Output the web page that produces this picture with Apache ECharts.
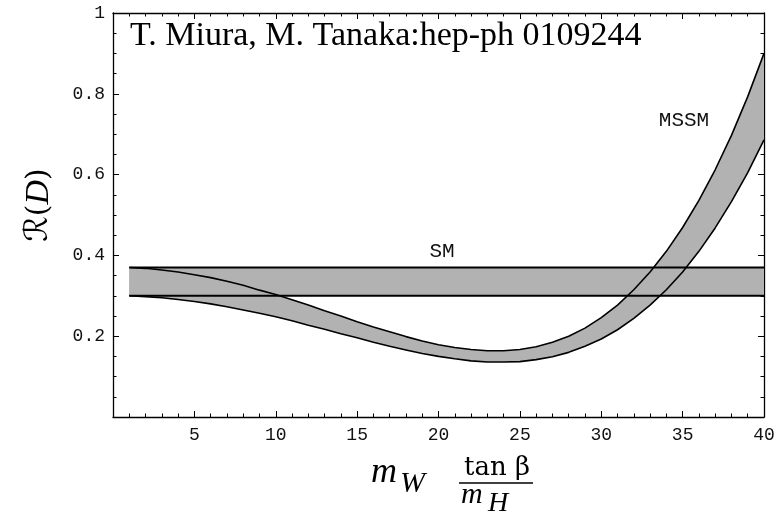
<!DOCTYPE html>
<html>
<head>
<meta charset="utf-8">
<script src="https://cdn.jsdelivr.net/npm/echarts@6/dist/echarts.min.js"></script>
<style>
  html, body { margin: 0; padding: 0; background: #fff; }
  #chart { width: 782px; height: 515px; }
</style>
</head>
<body>
<div id="chart"></div>
<script>
// x = m_W tan(beta) / m_H
const xs = [1, 2, 3, 4, 5, 6, 7, 8, 9, 10, 11, 12, 13, 14, 15, 16, 17, 18, 19, 20,
            21, 22, 23, 24, 25, 26, 27, 28, 29, 30, 31, 32, 33, 34, 35, 36, 37, 38, 39, 40];

// MSSM band: upper and lower edges of R(D)
const mssmUpper = [0.370, 0.368, 0.364, 0.359, 0.352, 0.345, 0.336, 0.326, 0.314, 0.303,
                   0.290, 0.277, 0.263, 0.250, 0.236, 0.223, 0.211, 0.199, 0.188, 0.179,
                   0.172, 0.167, 0.164, 0.164, 0.167, 0.174, 0.185, 0.200, 0.220, 0.246,
                   0.277, 0.315, 0.359, 0.410, 0.469, 0.536, 0.612, 0.697, 0.793, 0.900];
const mssmLower = [0.300, 0.298, 0.295, 0.291, 0.286, 0.280, 0.273, 0.265, 0.257, 0.248,
                   0.238, 0.227, 0.217, 0.206, 0.196, 0.185, 0.175, 0.166, 0.157, 0.150,
                   0.144, 0.139, 0.136, 0.136, 0.137, 0.142, 0.149, 0.160, 0.175, 0.193,
                   0.216, 0.244, 0.277, 0.315, 0.359, 0.410, 0.468, 0.533, 0.605, 0.686];

// SM band: constant range
const smX = [1, 40];
const smLower = [0.30, 0.30];
const smUpper = [0.37, 0.37];

// axis tick labels
const xTickLabels = ['', '5', '10', '15', '20', '25', '30', '35', '40'];
const yTickLabels = ['', '0.2', '0.4', '0.6', '0.8', '1'];

const BAND = '#b2b2b2';
const MONO = "'Courier New', 'Liberation Mono', monospace";

function pairs(x, y) { return x.map((v, i) => [v, y[i]]); }

// Filled region between two edges, drawn as one polygon
function bandSeries(x, lo, hi, z) {
  return {
    type: 'custom',
    z: z,
    silent: true,
    clip: true,
    data: [[x[0], lo[0]]],
    renderItem: function (params, api) {
      const pts = [];
      for (let i = 0; i < x.length; i++) pts.push(api.coord([x[i], hi[i]]));
      for (let i = x.length - 1; i >= 0; i--) pts.push(api.coord([x[i], lo[i]]));
      return { type: 'polygon', shape: { points: pts }, style: { fill: BAND, stroke: null } };
    }
  };
}

function edge(x, y, w) {
  return {
    type: 'line', z: 5, silent: true, symbol: 'none', clip: true,
    data: pairs(x, y),
    lineStyle: { color: '#000', width: w }
  };
}

const tickCommon = { show: true, inside: true, length: 6, lineStyle: { color: '#000', width: 1 } };
const minorCommon = { show: true, length: 3.5, lineStyle: { color: '#000', width: 1 } };

function xAxisDef(pos, labels) {
  return {
    type: 'value', position: pos, min: 0, max: 40, interval: 5,
    axisLine: { show: true, onZero: false, lineStyle: { color: '#000', width: 1.3 } },
    axisTick: tickCommon,
    minorTick: Object.assign({ splitNumber: 5 }, minorCommon),
    splitLine: { show: false },
    minorSplitLine: { show: false },
    axisLabel: {
      show: labels, margin: 9, color: '#111', fontFamily: MONO, fontSize: 18,
      formatter: v => xTickLabels[Math.round(v / 5)]
    }
  };
}

function yAxisDef(pos, labels) {
  return {
    type: 'value', position: pos, min: 0, max: 1, interval: 0.2,
    axisLine: { show: true, onZero: false, lineStyle: { color: '#000', width: 1.3 } },
    axisTick: tickCommon,
    minorTick: Object.assign({ splitNumber: 4 }, minorCommon),
    splitLine: { show: false },
    minorSplitLine: { show: false },
    axisLabel: {
      show: labels, margin: 8, color: '#111', fontFamily: MONO, fontSize: 18,
      formatter: v => yTickLabels[Math.round(v / 0.2)]
    }
  };
}

const chart = echarts.init(document.getElementById('chart'), null, { renderer: 'canvas' });

chart.setOption({
  animation: false,
  backgroundColor: '#fff',
  grid: { left: 113, right: 18, top: 13, bottom: 98, containLabel: false },
  xAxis: [xAxisDef('bottom', true), xAxisDef('top', false)],
  yAxis: [yAxisDef('left', true), yAxisDef('right', false)],
  series: [
    bandSeries(smX, smLower, smUpper, 1),
    bandSeries(xs, mssmLower, mssmUpper, 2),
    edge(smX, smLower, 2),
    edge(smX, smUpper, 2),
    edge(xs, mssmLower, 1.6),
    edge(xs, mssmUpper, 1.6)
  ],
  graphic: [
    {
      type: 'text', left: 130, top: 19, z: 10,
      style: { text: 'T. Miura, M. Tanaka:hep-ph 0109244', fontFamily: "'Liberation Serif', serif", fontSize: 34, fill: '#000' }
    },
    {
      type: 'text', x: 442, y: 251, z: 10,
      style: { text: 'SM', fontFamily: MONO, fontSize: 21, fill: '#111', align: 'center', verticalAlign: 'middle' }
    },
    {
      type: 'text', x: 684, y: 120, z: 10,
      style: { text: 'MSSM', fontFamily: MONO, fontSize: 21, fill: '#111', align: 'center', verticalAlign: 'middle' }
    },
    // vertical axis title R(D)
    {
      type: 'text', x: 39, y: 205, rotation: Math.PI / 2, z: 10,
      style: {
        text: '{r|ℛ}{p|(}{d|D}{p|)}',
        align: 'center', verticalAlign: 'middle',
        rich: {
          r: { fontFamily: "'DejaVu Serif', 'DejaVu Sans', serif", fontSize: 32, fill: '#000' },
          p: { fontFamily: "'DejaVu Serif', serif", fontSize: 30, fill: '#000' },
          d: { fontFamily: "'Liberation Serif', serif", fontStyle: 'italic', fontSize: 34, fill: '#000' }
        }
      }
    },
    // horizontal axis title m_W tan(beta)/m_H
    {
      type: 'text', x: 371, y: 491, z: 10,
      style: { text: 'm', fontFamily: "'Liberation Serif', serif", fontStyle: 'italic', fontSize: 36, fill: '#000', verticalAlign: 'bottom' }
    },
    {
      type: 'text', x: 400, y: 499, z: 10,
      style: { text: 'W', fontFamily: "'Liberation Serif', serif", fontStyle: 'italic', fontSize: 30, fill: '#000', verticalAlign: 'bottom' }
    },
    {
      type: 'text', x: 497, y: 481, z: 10,
      style: { text: 'tan β', fontFamily: "'DejaVu Serif', serif", fontSize: 26, fill: '#000', align: 'center', verticalAlign: 'bottom' }
    },
    {
      type: 'line', z: 10,
      shape: { x1: 459, y1: 483, x2: 533, y2: 483 },
      style: { stroke: '#000', lineWidth: 1.5 }
    },
    {
      type: 'text', x: 461, y: 510, z: 10,
      style: { text: 'm', fontFamily: "'Liberation Serif', serif", fontStyle: 'italic', fontSize: 30, fill: '#000', verticalAlign: 'bottom' }
    },
    {
      type: 'text', x: 488, y: 518, z: 10,
      style: { text: 'H', fontFamily: "'Liberation Serif', serif", fontStyle: 'italic', fontSize: 28, fill: '#000', verticalAlign: 'bottom' }
    }
  ]
});
</script>
</body>
</html>
